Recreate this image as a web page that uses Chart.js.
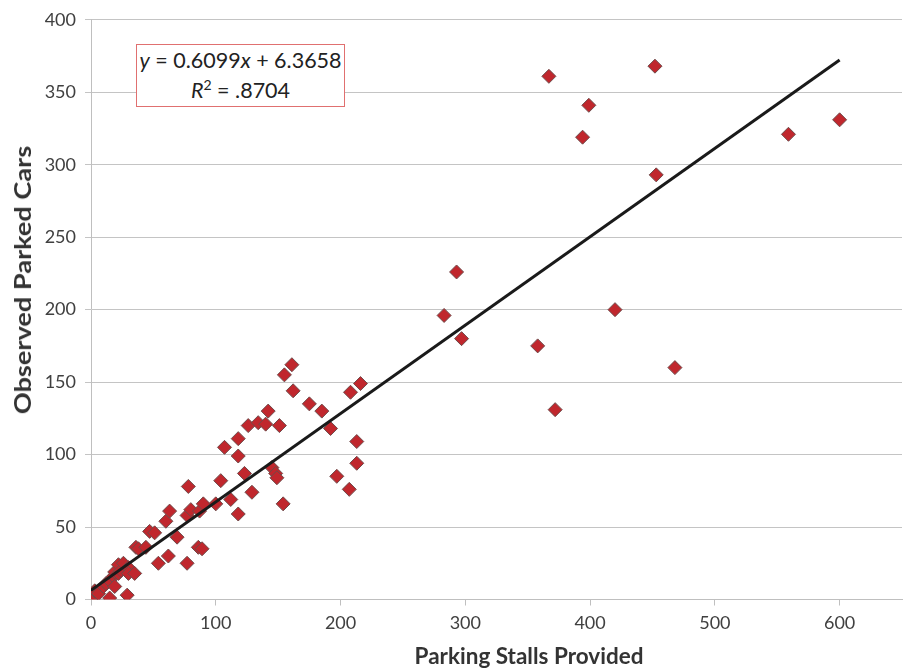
<!DOCTYPE html>
<html>
<head>
<meta charset="utf-8">
<script src="https://cdn.jsdelivr.net/npm/chart.js@4"></script>
<style>
    body { margin: 0; background: #fff; }
    #wrap { position: relative; width: 904px; height: 671px; overflow: hidden; }
    .axis-title { position: absolute; font-family: Lato, "Open Sans", sans-serif; font-weight: bold; color: #333; white-space: nowrap; }
    #eq { position: absolute; left: 136px; top: 44px; width: 207px; height: 61px; border: 1px solid #e07070; background: #fff;
          font-family: Lato, "Open Sans", sans-serif; font-size: 21.5px; color: #222; text-align: center; line-height: 30px; }
</style>
</head>
<body>
<div id="wrap">
    <canvas id="chart" width="910" height="671"></canvas>
    <div id="eq"><i>y</i> = 0.6099<i>x</i> + 6.3658<br><i>R</i><sup style="font-size:14px;line-height:0">2</sup> = .8704</div>
    <div class="axis-title" style="left: 529px; top: 655px; font-size: 22.5px; transform: translate(-50%, -50%) scaleY(1.05);">Parking Stalls Provided</div>
    <div class="axis-title" style="left: 22px; top: 280px; font-size: 23px; transform: translate(-50%, -50%) rotate(-90deg) scaleX(1.18);">Observed Parked Cars</div>
</div>
<script>
// Data
const stalls = [0, 3, 6, 10, 12, 15, 15, 18, 19, 19, 22, 22, 24, 26, 29, 30, 30, 35, 36, 38, 44, 47,
    51, 54, 60, 62, 63, 69, 77, 78, 77, 80, 86, 89, 87, 90, 100, 104, 107, 112, 118, 118, 118, 123,
    126, 129, 134, 140, 142, 145, 148, 149, 151, 154, 155, 161, 162, 175, 185, 192, 197, 207, 208,
    213, 213, 216, 283, 293, 297, 358, 367, 372, 394, 399, 420, 452, 453, 468, 559, 600];
const parkedCars = [0, 6, 4, 9, 11, 13, 1, 16, 9, 19, 18, 24, 20, 25, 3, 22, 18, 18, 36, 35, 36, 47,
    46, 25, 54, 30, 61, 43, 25, 78, 58, 62, 36, 35, 61, 66, 66, 82, 105, 69, 59, 99, 111, 87,
    120, 74, 122, 121, 130, 91, 87, 84, 120, 66, 155, 162, 144, 135, 130, 118, 85, 76, 143,
    109, 94, 149, 196, 226, 180, 175, 361, 131, 319, 341, 200, 368, 293, 160, 321, 331];

// Trendline ends (y = 0.6099x + 6.3658)
const trendX = [0, 600];
const trendY = [6.37, 372.3];

const xTicks = { min: 0, max: 650, step: 100 };
const yTicks = { min: 0, max: 400, step: 50 };

const points = stalls.map((x, i) => ({ x: x, y: parkedCars[i] }));
const trend = trendX.map((x, i) => ({ x: x, y: trendY[i] }));

const tickFont = { family: 'Lato, "Open Sans", sans-serif', size: 18 };

new Chart(document.getElementById('chart').getContext('2d'), {
    type: 'scatter',
    data: {
        datasets: [
            {
                label: 'Trend',
                type: 'line',
                data: trend,
                borderColor: '#1a1a1a',
                borderWidth: 3,
                pointRadius: 0,
                fill: false,
                order: 0
            },
            {
                label: 'Observed',
                data: points,
                pointStyle: 'rectRot',
                pointRadius: 7,
                backgroundColor: '#c0272d',
                borderColor: '#6e4a4a',
                borderWidth: 1,
                order: 1
            }
        ]
    },
    options: {
        responsive: false,
        animation: false,
        layout: { padding: { top: 19, right: 1, left: 0, bottom: 0 } },
        plugins: {
            legend: { display: false },
            tooltip: { enabled: false }
        },
        scales: {
            x: {
                type: 'linear',
                min: xTicks.min,
                max: xTicks.max,
                afterFit: s => { s.height = 71.5; },
                border: { color: '#bfbfbf', width: 1 },
                grid: { drawOnChartArea: false, tickLength: 6, color: '#bfbfbf' },
                ticks: { stepSize: xTicks.step, includeBounds: false, color: '#404040', font: tickFont, padding: 7 }
            },
            y: {
                min: yTicks.min,
                max: yTicks.max,
                afterFit: s => { s.width = 91; },
                border: { color: '#bfbfbf', width: 1 },
                grid: { color: '#c4c4c4', tickLength: 6 },
                ticks: { stepSize: yTicks.step, color: '#404040', font: tickFont, padding: 9 }
            }
        }
    }
});
</script>
</body>
</html>
